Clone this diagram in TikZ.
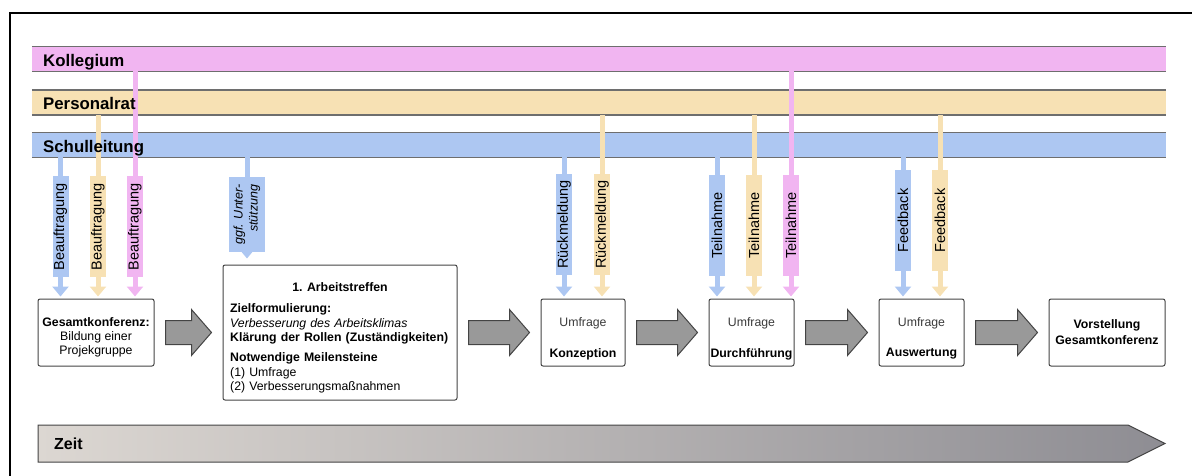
\documentclass[tikz,border=0pt]{standalone}
\usepackage{fontspec}
\setmainfont{Liberation Sans}
\usetikzlibrary{arrows.meta,calc}
\definecolor{pinkC}{HTML}{F1B5F1}
\definecolor{tanC}{HTML}{F7E1B4}
\definecolor{blueC}{HTML}{ADC7F2}
\definecolor{lineC}{HTML}{6E6E6E}
\definecolor{boxC}{HTML}{444444}
\definecolor{blkC}{HTML}{999999}
\definecolor{umfC}{HTML}{3A3A3A}
\definecolor{zeitL}{HTML}{DCD7D2}
\definecolor{zeitM}{HTML}{BEB9B7}
\definecolor{zeitR}{HTML}{8E8D93}
\newcommand\vstem[4]{%
  \draw[stem=#2] (#1 |- #3.south) -- (#1);
  \draw[stem=#2, arr, shorten >=2pt] (#1) -- (#1 |- #4.north);}
\newcommand\blockarrow[2]{%
  \draw[blk] ($(#1.east)+(11,-12)$) -- ($(#2.west)+(-31,-12)$) -- ($(#2.west)+(-31,-23)$) -- ($(#2.west)+(-11,0)$) -- ($(#2.west)+(-31,23)$) -- ($(#2.west)+(-31,12)$) -- ($(#1.east)+(11,12)$) -- cycle;}
\begin{document}
\begin{tikzpicture}[x=1pt,y=-1pt,
  band/.style={minimum width=1134pt, minimum height=24.5pt, inner sep=0pt},
  bandlabel/.style={anchor=base west, inner sep=0pt, font=\fontsize{16.8}{19}\selectfont\bfseries},
  bandline/.style={draw=lineC, line width=1.5pt},
  stem/.style={line width=5pt, draw=#1},
  arr/.style={-{Triangle[width=16pt,length=10pt]}},
  vlab/.style={rotate=90, fill=#1, minimum width=101pt, minimum height=16pt, inner sep=0pt, font=\fontsize{14.5}{16}\selectfont},
  box/.style={draw=boxC, line width=1pt, rounded corners=2pt, fill=white, inner sep=0pt},
  btxt/.style={align=center, inner sep=0pt, font=\fontsize{12.3}{14}\selectfont},
  blk/.style={draw=boxC, fill=blkC, line width=1pt, line join=miter}]
\useasboundingbox (0,0) rectangle (1192,475);
% frame
\draw[line width=2.5pt] (10,476) -- (10,13) -- (1193,13);
% bands
\node[band, fill=pinkC] (K) at (599,59) {};
\node[band, fill=tanC] (P) at (599,102.5) {};
\node[band, fill=blueC] (S) at (599,145) {};
\foreach \b in {K,P,S}{
  \draw[bandline] (\b.north west) -- (\b.north east);
  \draw[bandline] (\b.south west) -- (\b.south east);}
% boxes
\node[box, minimum width=116pt, minimum height=67pt] (G) at (96,332.5) {};
\node[btxt] at (96,337) {\textbf{Gesamtkonferenz:}\\Bildung einer\\Projekgruppe};
\node[box, minimum width=234pt, minimum height=135pt] (A) at (340,332.5) {};
\node[btxt, font=\fontsize{12.3}{14}\selectfont\bfseries] at (340,287) {1. Arbeitstreffen};
\node[inner sep=0pt, anchor=north west, text width=225pt, align=left, font=\fontsize{12.3}{14.6}\selectfont] at (230,303.5)
  {\textbf{Zielformulierung:}\\\textit{Verbesserung des Arbeitsklimas}\\\textbf{Klärung der Rollen (Zuständigkeiten)}\\[5pt]\textbf{Notwendige Meilensteine}\\(1) Umfrage\\(2) Verbesserungsmaßnahmen};
\node[box, minimum width=84pt, minimum height=67pt] (U1) at (583,332.5) {};
\node[box, minimum width=85pt, minimum height=67pt] (U2) at (751.5,332.5) {};
\node[box, minimum width=85pt, minimum height=67pt] (U3) at (921.5,332.5) {};
\foreach \u/\t in {U1/Konzeption,U2/Durchführung,U3/Auswertung}{
  \node[btxt, text=umfC] at ($(\u.center)+(0,-9.5)$) {Umfrage};
  \node[btxt, font=\fontsize{12.3}{14}\selectfont\bfseries] at ($(\u.center)+(0,21.5)$) {\t};}
\node[box, minimum width=116pt, minimum height=67pt] (V) at (1107,332.5) {};
\node[btxt, font=\fontsize{12.3}{16}\selectfont\bfseries] at (1107,332) {Vorstellung\\Gesamtkonferenz};
% block arrows
\blockarrow{G}{A}
\blockarrow{A}{U1}
\blockarrow{U1}{U2}
\blockarrow{U2}{U3}
\blockarrow{U3}{V}
% vertical labelled arrows
\node[vlab=blueC] (b1) at (60.5,226.5) {Beauftragung};
\node[vlab=tanC] (b2) at (98,226.5) {Beauftragung};
\node[vlab=pinkC] (b3) at (135,226.5) {Beauftragung};
\node[vlab=blueC, minimum width=75pt, minimum height=36pt, align=right, font=\fontsize{12.5}{15}\selectfont\itshape] (g1) at (247,214.5) {ggf. Unter-\\stützung};
\node[vlab=blueC] (r1) at (564,224.5) {Rückmeldung};
\node[vlab=tanC] (r2) at (602,224.5) {Rückmeldung};
\node[vlab=blueC] (t1) at (717,225.5) {Teilnahme};
\node[vlab=tanC] (t2) at (754,225.5) {Teilnahme};
\node[vlab=pinkC] (t3) at (791,225.5) {Teilnahme};
\node[vlab=blueC] (f1) at (903,220.5) {Feedback};
\node[vlab=tanC] (f2) at (940,220.5) {Feedback};
\vstem{b1}{blueC}{S}{G}
\vstem{b2}{tanC}{P}{G}
\vstem{b3}{pinkC}{K}{G}
\draw[stem=blueC] (g1 |- S.south) -- (g1);
\draw[stem=blueC, arr, shorten >=6pt] (g1) -- (g1 |- A.north);
\vstem{r1}{blueC}{S}{U1}
\vstem{r2}{tanC}{P}{U1}
\vstem{t1}{blueC}{S}{U2}
\vstem{t2}{tanC}{P}{U2}
\vstem{t3}{pinkC}{K}{U2}
\vstem{f1}{blueC}{S}{U3}
\vstem{f2}{tanC}{P}{U3}
% band labels on top
\node[bandlabel] (Kl) at (43,66) {Kollegium};
\node[bandlabel] (Pl) at (43,109.5) {Personalrat};
\node[bandlabel] (Sl) at (43,152) {Schulleitung};
% time arrow
\shade[left color=zeitL, middle color=zeitM, right color=zeitR] (38,425) -- (1128,425) -- (1165,443.5) -- (1128,462) -- (38,462) -- cycle;
\draw[draw=boxC, line width=1pt] (38,425) -- (1128,425) -- (1165,443.5) -- (1128,462) -- (38,462) -- cycle;
\node[anchor=west, inner sep=0pt, font=\fontsize{16}{18}\selectfont\bfseries] (Z) at (54,443.5) {Zeit};
\end{tikzpicture}
\end{document}
